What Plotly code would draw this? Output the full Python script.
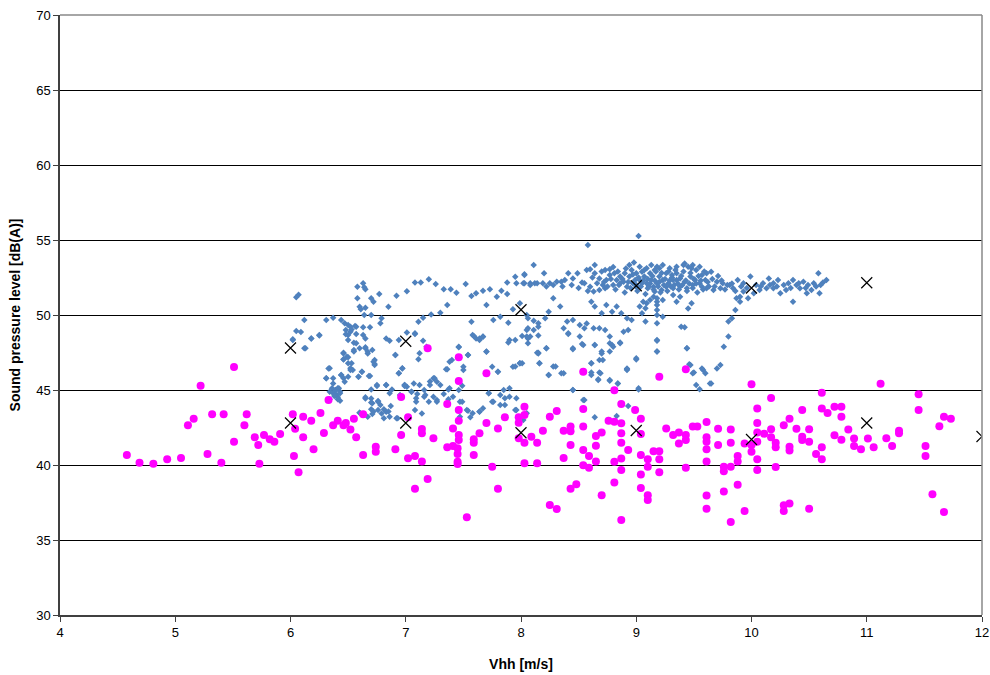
import plotly.graph_objects as go

# wind speed Vhh [m/s] vs sound pressure level [dB(A)]
# blue diamonds: total level measurements
blue_pts = [
    (6.05, 51.18), (6.07, 51.35), (6.12, 49.67), (6.05, 48.93), (6.09, 48.87), (6.02, 48.33), (6.12, 47.78),
    (6.18, 48.44), (6.25, 48.64), (6.31, 49.67), (6.37, 49.82), (6.44, 49.67), (6.47, 49.45), (6.50, 49.33),
    (6.52, 49.22), (6.56, 49.27), (6.58, 51.89), (6.63, 52.11), (6.64, 51.85), (6.65, 51.71), (6.58, 51.11),
    (6.60, 50.55), (6.61, 50.38), (6.65, 50.49), (6.70, 51.11), (6.72, 50.89), (6.77, 51.40), (6.64, 50.00),
    (6.70, 50.00), (6.48, 49.00), (6.52, 48.89), (6.50, 48.67), (6.53, 49.04), (6.57, 49.22), (6.63, 49.18),
    (6.69, 49.18), (6.48, 48.71), (6.57, 48.73), (6.50, 48.33), (6.55, 48.15), (6.63, 48.67), (6.65, 48.44),
    (6.46, 47.49), (6.50, 47.18), (6.46, 47.05), (6.53, 46.78), (6.52, 46.45), (6.54, 46.33), (6.55, 47.67),
    (6.60, 47.78), (6.65, 47.85), (6.67, 47.55), (6.71, 47.67), (6.73, 47.00), (6.73, 46.73), (6.69, 45.93),
    (6.62, 46.22), (6.34, 46.45), (6.31, 45.78), (6.37, 45.78), (6.44, 46.00), (6.46, 45.78), (6.47, 45.55),
    (6.50, 45.89), (6.59, 45.89), (6.36, 45.11), (6.39, 45.00), (6.41, 45.11), (6.43, 44.89), (6.40, 44.67),
    (6.37, 44.78), (6.41, 44.51), (6.43, 44.29), (6.34, 44.38), (6.38, 44.60), (6.65, 44.51), (6.70, 44.44),
    (6.71, 44.11), (6.76, 44.27), (6.78, 44.00), (6.76, 43.67), (6.70, 43.71), (6.71, 43.40), (6.81, 43.71),
    (6.83, 43.55), (6.86, 43.22), (6.92, 43.11), (6.60, 43.49), (6.67, 43.22), (6.75, 45.33), (6.83, 45.33),
    (6.88, 45.04), (6.95, 44.67), (6.99, 45.33), (6.83, 48.44), (6.86, 48.29), (6.94, 48.33), (7.01, 48.84),
    (7.08, 48.73), (6.91, 47.33), (6.97, 46.45), (6.94, 46.11), (6.78, 49.45), (6.79, 49.78), (6.85, 50.55),
    (6.92, 51.29), (7.01, 51.58), (7.08, 52.16), (7.13, 52.16), (7.20, 52.38), (7.26, 52.07), (7.33, 51.71),
    (7.39, 51.71), (7.44, 51.49), (7.52, 52.07), (7.36, 50.67), (7.30, 50.15), (7.22, 50.04), (7.15, 49.82),
    (7.11, 49.55), (7.08, 48.78), (7.15, 48.29), (7.18, 47.89), (7.12, 47.45), (7.11, 47.05), (7.01, 45.22),
    (7.07, 45.44), (7.12, 45.33), (7.16, 45.00), (7.10, 44.73), (7.05, 44.89), (7.09, 44.45), (7.16, 44.55),
    (7.20, 44.22), (7.24, 44.55), (7.27, 44.22), (7.33, 44.73), (7.37, 45.04), (7.41, 44.55), (7.46, 45.00),
    (7.49, 44.22), (7.53, 43.67), (7.58, 43.45), (7.64, 43.55), (7.67, 43.78), (7.72, 44.78), (7.76, 44.22),
    (7.82, 44.67), (7.82, 44.00), (7.86, 44.45), (7.90, 44.55), (7.95, 43.67), (7.96, 44.45), (7.24, 45.78),
    (7.27, 45.55), (7.21, 45.33), (7.36, 46.38), (7.40, 47.00), (7.46, 47.85), (7.50, 46.55), (7.54, 47.33),
    (7.57, 49.55), (7.58, 48.67), (7.61, 48.44), (7.64, 48.33), (7.67, 48.55), (7.70, 47.55), (7.75, 46.55),
    (7.80, 46.22), (7.90, 48.33), (7.95, 48.33), (8.01, 48.60), (8.06, 48.44), (8.06, 49.11), (8.11, 49.62),
    (7.93, 46.55), (7.99, 46.78), (7.57, 51.27), (7.61, 51.45), (7.67, 51.62), (7.73, 51.71), (7.79, 51.22),
    (7.83, 51.62), (7.88, 51.40), (7.88, 52.16), (7.95, 52.55), (7.96, 52.11), (8.03, 52.67), (8.03, 52.11),
    (8.08, 52.11), (8.12, 52.11), (8.15, 49.45), (8.15, 47.49), (8.15, 48.64), (7.70, 50.67), (7.76, 49.67),
    (7.82, 49.89), (7.89, 49.49), (7.93, 50.38), (7.99, 50.78), (8.05, 50.00), (8.05, 43.45), (8.02, 43.00),
    (9.02, 55.27), (8.58, 54.67), (8.11, 53.33), (8.03, 52.71), (8.20, 52.78), (8.02, 52.11), (8.08, 52.00),
    (8.14, 52.11), (8.19, 52.11), (8.25, 52.11), (8.31, 52.22), (8.35, 52.22), (8.38, 52.33), (8.41, 52.78),
    (8.45, 52.44), (8.49, 52.78), (8.53, 52.16), (8.57, 53.00), (8.60, 53.05), (8.64, 53.33), (8.64, 52.78),
    (8.68, 52.44), (8.73, 53.00), (8.77, 53.05), (8.77, 52.67), (8.81, 52.78), (8.86, 52.56), (8.90, 52.78),
    (8.94, 53.33), (8.96, 53.00), (8.99, 52.33), (9.03, 53.22), (9.07, 52.56), (9.12, 52.78), (9.16, 53.00),
    (9.20, 53.11), (9.26, 52.78), (9.31, 52.67), (9.35, 52.33), (9.41, 53.33), (9.45, 53.22), (9.49, 53.33),
    (9.52, 53.00), (9.57, 52.67), (9.61, 52.78), (9.65, 52.89), (9.70, 52.22), (9.75, 52.11), (9.81, 52.00),
    (9.88, 52.33), (9.93, 52.11), (9.99, 52.56), (10.04, 52.00), (10.10, 52.11), (10.15, 52.44), (10.19, 52.11),
    (10.23, 52.33), (10.28, 52.00), (10.32, 52.11), (10.36, 52.33), (10.41, 52.11), (10.45, 52.22), (10.49, 52.00),
    (10.54, 52.11), (10.58, 52.78), (10.62, 52.16), (10.65, 52.33), (9.67, 51.67), (9.73, 51.78), (9.84, 51.78),
    (9.90, 51.22), (9.93, 51.56), (9.97, 51.11), (10.02, 51.45), (10.07, 51.67), (10.13, 51.78), (10.19, 51.78),
    (10.25, 51.45), (10.30, 51.67), (10.36, 50.89), (10.42, 51.78), (10.48, 51.45), (10.52, 51.67), (10.59, 51.45),
    (9.03, 52.33), (9.09, 52.11), (9.13, 52.33), (9.15, 51.89), (9.18, 52.11), (9.20, 52.56), (9.23, 52.33),
    (9.28, 52.11), (9.32, 52.33), (9.35, 52.78), (9.38, 52.44), (9.42, 52.22), (9.47, 52.56), (9.51, 52.33),
    (9.55, 52.11), (9.60, 52.33), (9.10, 51.78), (9.16, 51.56), (9.22, 51.67), (9.26, 51.89), (9.32, 51.78),
    (9.38, 51.89), (9.44, 51.78), (9.49, 52.00), (9.57, 51.89), (9.61, 51.78), (8.89, 52.22), (8.92, 51.89),
    (8.86, 52.11), (8.83, 52.33), (8.80, 52.00), (8.74, 52.33), (8.71, 52.00), (8.66, 52.11), (8.60, 51.89),
    (8.55, 52.11), (8.63, 51.56), (8.68, 51.67), (8.73, 51.78), (9.00, 52.78), (9.05, 52.89), (9.09, 53.11),
    (9.13, 53.33), (9.18, 53.22), (9.23, 53.33), (9.29, 53.11), (9.35, 53.22), (9.42, 53.44), (9.48, 53.11),
    (9.55, 53.22), (8.94, 52.56), (8.97, 52.11), (9.00, 51.89), (9.05, 52.11), (9.18, 51.11), (9.18, 50.89),
    (9.18, 50.67), (9.18, 50.33), (9.18, 50.00), (9.18, 49.45), (9.18, 48.33), (9.18, 47.56), (9.15, 51.22),
    (9.12, 51.00), (9.09, 50.78), (9.08, 50.45), (9.06, 50.89), (9.05, 50.11), (9.03, 50.56), (9.23, 51.00),
    (9.23, 49.89), (9.08, 49.56), (9.00, 47.11), (8.92, 46.44), (9.87, 51.11), (9.90, 50.89), (9.86, 50.33),
    (9.83, 49.78), (9.80, 49.56), (9.80, 48.56), (9.76, 47.89), (9.73, 46.67), (9.70, 46.44), (9.65, 45.44),
    (9.64, 45.44), (9.58, 46.33), (9.60, 46.11), (9.57, 46.44), (9.52, 45.33), (9.55, 45.05), (9.49, 46.11),
    (9.46, 46.71), (9.44, 47.78), (9.39, 49.22), (9.42, 49.18), (9.45, 50.44), (9.48, 50.78), (9.38, 51.22),
    (9.35, 50.89), (9.32, 51.33), (8.06, 49.78), (8.05, 49.00), (8.11, 49.00), (8.15, 49.22), (8.21, 49.78),
    (8.24, 50.22), (8.28, 51.11), (8.34, 50.56), (8.40, 49.56), (8.45, 49.67), (8.51, 49.33), (8.57, 49.44),
    (8.61, 50.89), (8.64, 50.56), (8.70, 50.11), (8.74, 50.67), (8.79, 50.22), (8.83, 50.56), (8.87, 50.11),
    (8.92, 49.78), (8.96, 49.67), (8.37, 49.11), (8.41, 48.78), (8.51, 48.56), (8.55, 49.11), (8.63, 49.11),
    (8.68, 49.11), (8.73, 49.00), (8.77, 48.56), (8.79, 48.00), (8.86, 48.11), (8.89, 48.89), (8.93, 49.00),
    (8.45, 47.78), (8.54, 48.00), (8.64, 48.00), (8.70, 47.56), (8.77, 47.56), (8.61, 46.78), (8.68, 47.00),
    (8.61, 46.00), (8.67, 45.67), (8.68, 46.16), (8.28, 46.56), (8.24, 46.00), (8.35, 46.11), (8.16, 46.78),
    (8.15, 47.44), (8.22, 47.78), (8.01, 46.78), (8.08, 48.56), (8.45, 45.00), (8.54, 44.33), (8.77, 45.67),
    (8.84, 45.44), (8.92, 46.33), (9.02, 45.11), (7.59, 48.60), (7.64, 48.44), (7.67, 48.56), (7.46, 47.89),
    (7.54, 47.33), (7.35, 46.38), (7.38, 46.89), (7.50, 46.33), (7.70, 47.56), (7.80, 46.22), (7.89, 48.16),
    (7.95, 46.56), (7.99, 46.78), (8.05, 48.56), (8.06, 48.11), (8.14, 47.49), (8.16, 46.78), (8.22, 47.78),
    (8.24, 46.00), (8.30, 46.56), (8.37, 46.11), (8.41, 48.73), (8.45, 47.71), (8.53, 48.07), (8.61, 46.78),
    (8.64, 48.00), (8.70, 47.44), (8.71, 47.00), (8.77, 48.11), (8.80, 47.89), (8.86, 48.16), (8.92, 46.38),
    (9.00, 47.04), (9.18, 48.29), (9.18, 47.56), (9.44, 47.78), (9.47, 46.67), (9.50, 46.16), (8.61, 46.16),
    (8.67, 45.71), (8.69, 46.11), (8.77, 45.62), (8.84, 45.44), (9.02, 45.04), (8.45, 45.00), (8.55, 44.33),
    (8.64, 43.18), (8.76, 43.00), (8.83, 43.27), (8.93, 43.93), (7.21, 45.56), (7.25, 45.78), (7.30, 45.33),
    (7.38, 45.11), (7.49, 45.29), (6.99, 45.33), (7.05, 44.89), (7.09, 44.22), (7.17, 44.67), (7.27, 44.33),
    (7.37, 44.38), (7.47, 44.22), (7.54, 43.62), (7.64, 43.56), (7.72, 44.78), (7.75, 44.22), (7.85, 45.00),
    (7.90, 45.11), (7.86, 44.00), (7.96, 43.67), (7.47, 43.22), (7.56, 43.18), (7.08, 43.67), (7.14, 43.44),
    (6.02, 48.38), (6.13, 47.78), (6.18, 48.44), (6.25, 48.67), (6.33, 46.44), (6.31, 45.78), (6.37, 45.44),
    (6.34, 44.89), (6.39, 45.00), (6.42, 45.11), (6.43, 44.78), (6.41, 44.38), (6.44, 46.00), (6.46, 47.04),
    (6.49, 47.22), (6.46, 47.44), (6.50, 46.78), (6.52, 46.33), (6.55, 47.56), (6.57, 48.11), (6.59, 45.89),
    (6.62, 46.22), (6.65, 47.78), (6.67, 47.44), (6.68, 45.93), (6.72, 46.89), (6.73, 46.67), (6.75, 45.27),
    (6.70, 45.04), (6.65, 44.44), (6.70, 44.16), (6.76, 44.22), (6.79, 43.44), (6.81, 43.11), (6.83, 45.33),
    (6.86, 44.78), (6.87, 43.93), (6.85, 43.56), (6.91, 47.33), (6.94, 46.11), (6.97, 46.44), (6.99, 45.27),
    (6.93, 43.11), (6.60, 43.49), (6.72, 43.56),
    # dense core of the high-wind cluster
    (8.70, 52.9), (8.72, 52.2), (8.75, 51.9), (8.78, 52.4), (8.80, 53.2), (8.82, 51.7), (8.84, 52.9),
    (8.85, 52.0), (8.88, 52.4), (8.90, 51.5), (8.91, 53.1), (8.93, 52.2), (8.95, 51.8), (8.97, 52.7),
    (8.98, 53.5), (9.00, 52.0), (9.01, 51.6), (9.02, 52.5), (9.04, 51.9), (9.06, 52.3), (9.07, 53.0),
    (9.08, 51.4), (9.10, 52.4), (9.11, 51.9), (9.12, 52.1), (9.14, 52.6), (9.15, 51.7), (9.16, 52.3),
    (9.17, 52.9), (9.19, 51.9), (9.20, 52.2), (9.21, 51.5), (9.22, 52.8), (9.24, 52.0), (9.25, 52.4),
    (9.27, 51.6), (9.28, 52.9), (9.29, 52.3), (9.30, 51.9), (9.31, 52.5), (9.33, 52.0), (9.34, 53.0),
    (9.36, 52.1), (9.37, 51.7), (9.39, 52.6), (9.40, 52.0), (9.41, 52.9), (9.43, 52.3), (9.44, 51.6),
    (9.46, 52.1), (9.47, 52.8), (9.49, 51.8), (9.50, 52.4), (9.52, 52.1), (9.53, 51.5), (9.54, 52.6),
    (9.56, 52.3), (9.58, 51.7), (9.59, 52.9), (9.62, 52.2), (9.63, 51.9), (9.66, 52.4), (9.68, 51.9),
    (9.71, 52.6), (9.74, 52.3), (9.77, 51.7), (9.79, 52.0), (9.83, 52.1), (9.86, 51.6), (9.91, 51.9),
    (9.96, 51.8), (10.08, 51.9), (10.16, 52.0), (10.22, 51.9), (10.34, 51.8), (10.39, 52.0), (10.47, 51.8),
    (10.56, 51.9), (10.60, 52.0), (8.62, 52.5), (8.58, 51.6), (8.50, 51.8), (8.44, 52.0), (8.36, 51.9),
    (8.28, 52.0), (8.22, 51.9),
]

# magenta circles: background level measurements
pink_pts = [
    (4.58, 40.67), (4.69, 40.15), (4.81, 40.09), (4.93, 40.38), (5.05, 40.47), (5.11, 42.65), (5.16, 43.09),
    (5.22, 45.29), (5.28, 40.73), (5.32, 43.38), (5.40, 40.15), (5.42, 43.38), (5.51, 46.53), (5.51, 41.55),
    (5.60, 42.65), (5.62, 43.38), (5.69, 41.85), (5.72, 41.33), (5.73, 40.09), (5.77, 42.00), (5.82, 41.71),
    (5.86, 41.55), (5.91, 42.07), (6.02, 43.38), (6.04, 42.42), (6.03, 40.60), (6.07, 39.51), (6.11, 43.22),
    (6.11, 41.85), (6.18, 42.95), (6.20, 41.05), (6.26, 43.47), (6.29, 42.13), (6.33, 44.33), (6.37, 42.65),
    (6.41, 42.95), (6.46, 42.65), (6.48, 42.80), (6.52, 42.36), (6.55, 43.09), (6.57, 41.85), (6.63, 43.38),
    (6.63, 40.67), (6.74, 41.22), (6.74, 40.89), (6.91, 41.05), (6.96, 44.53), (6.96, 42.00), (7.02, 40.45),
    (7.02, 43.18), (7.19, 47.78), (7.46, 47.18), (7.70, 46.11), (7.46, 45.60), (7.36, 44.07), (7.14, 42.40),
    (7.14, 42.11), (7.24, 41.78), (7.08, 40.60), (7.14, 40.24), (7.19, 39.07), (7.08, 38.42), (7.46, 43.67),
    (7.46, 42.95), (7.41, 42.44), (7.46, 42.00), (7.46, 41.67), (7.41, 41.27), (7.36, 41.18), (7.45, 41.11),
    (7.45, 40.73), (7.45, 40.22), (7.45, 40.07), (7.59, 41.71), (7.59, 41.49), (7.64, 42.11), (7.70, 42.80),
    (7.59, 40.67), (7.75, 39.89), (7.80, 38.42), (7.53, 36.51), (7.80, 42.44), (7.86, 43.18), (7.98, 43.18),
    (7.98, 42.82), (8.03, 43.89), (8.03, 43.33), (7.98, 41.78), (8.03, 41.49), (8.09, 41.89), (8.14, 41.49),
    (8.19, 42.29), (8.03, 40.11), (8.14, 40.11), (8.25, 43.22), (8.31, 43.60), (8.25, 37.33), (8.31, 37.07),
    (8.37, 42.29), (8.43, 42.56), (8.43, 42.25), (8.43, 41.33), (8.37, 40.47), (8.43, 38.42), (8.48, 38.71),
    (8.54, 46.22), (8.54, 43.73), (8.54, 42.56), (8.54, 41.00), (8.59, 40.60), (8.54, 39.98), (8.59, 39.82),
    (8.65, 41.93), (8.65, 41.29), (8.70, 42.16), (8.65, 40.24), (8.70, 37.98), (8.76, 42.95), (8.81, 44.98),
    (8.81, 42.89), (8.87, 44.07), (8.87, 42.78), (8.87, 42.11), (8.87, 41.49), (8.87, 40.44), (8.81, 40.22),
    (8.87, 39.67), (8.81, 38.84), (8.87, 36.33), (8.93, 41.00), (8.99, 43.67), (9.04, 43.09), (9.04, 42.07),
    (9.04, 40.67), (9.10, 40.38), (9.10, 39.89), (9.04, 39.36), (9.04, 38.47), (9.10, 37.98), (9.10, 37.67),
    (9.15, 40.91), (9.20, 40.91), (9.20, 40.38), (9.20, 39.51), (9.20, 45.89), (9.26, 42.44), (9.32, 42.00),
    (9.37, 42.16), (9.37, 41.44), (9.43, 42.00), (9.43, 41.67), (9.43, 46.38), (9.43, 39.82), (9.49, 42.56),
    (9.53, 42.56), (10.00, 45.38), (10.17, 44.47), (10.05, 43.76), (10.05, 42.80), (10.05, 42.16), (10.11, 42.09),
    (10.17, 42.38), (10.17, 41.85), (10.05, 41.55), (10.00, 41.33), (10.00, 40.89), (9.94, 41.44), (10.05, 40.38),
    (10.05, 39.67), (10.21, 41.49), (10.21, 41.18), (10.21, 39.87), (10.28, 42.65), (10.33, 43.09), (10.33, 41.22),
    (10.33, 40.96), (10.39, 42.42), (10.44, 43.67), (10.44, 41.89), (10.44, 41.67), (10.50, 42.38), (10.50, 41.55),
    (10.56, 40.73), (10.61, 44.82), (10.61, 43.76), (10.66, 43.47), (10.61, 41.18), (10.61, 40.38), (10.72, 43.89),
    (10.78, 43.89), (10.78, 43.22), (10.72, 41.98), (10.78, 41.69), (10.84, 42.36), (10.89, 41.76), (10.89, 41.27),
    (10.95, 41.05), (11.01, 41.76), (11.06, 41.18), (11.12, 45.42), (11.17, 41.78), (11.22, 41.27), (11.28, 42.29),
    (11.28, 42.11), (11.45, 44.71), (11.45, 43.67), (11.51, 41.27), (11.51, 40.60), (11.57, 38.05), (11.63, 42.58),
    (11.67, 43.22), (11.73, 43.09), (11.67, 36.87), (9.61, 42.87), (9.61, 41.85), (9.61, 41.55), (9.61, 41.05),
    (9.61, 40.24), (9.61, 37.96), (9.61, 37.09), (9.71, 42.42), (9.71, 41.33), (9.76, 39.89), (9.76, 39.58),
    (9.82, 42.36), (9.82, 41.49), (9.82, 39.89), (9.88, 40.60), (9.88, 40.24), (9.88, 38.69), (9.76, 38.24),
    (9.82, 36.20), (9.94, 36.93), (10.28, 37.31), (10.28, 36.93), (10.33, 37.44), (10.50, 37.09),
]

# bin averages (black crosses)
bin_x = [6, 7, 8, 9, 10, 11, 6, 7, 8, 9, 10, 11, 12]
bin_y = [47.8, 48.25, 50.35, 51.95, 51.8, 52.15, 42.8, 42.8, 42.15, 42.3, 41.7, 42.8, 41.9]

fig = go.Figure()
fig.add_trace(go.Scatter(
    x=[p[0] for p in blue_pts], y=[p[1] for p in blue_pts], mode='markers',
    marker=dict(symbol='diamond', size=5, color='#4F81BD'), name='Total',
))
fig.add_trace(go.Scatter(
    x=[p[0] for p in pink_pts], y=[p[1] for p in pink_pts], mode='markers',
    marker=dict(symbol='circle', size=8, color='#FF00FF'), name='Background',
))
fig.add_trace(go.Scatter(
    x=bin_x, y=bin_y, mode='markers',
    marker=dict(symbol='x-thin', size=11, line=dict(color='black', width=1.2)), name='Bin average',
))

fig.update_layout(
    width=990, height=675,
    margin=dict(l=60, r=8, t=15, b=60),
    paper_bgcolor='white', plot_bgcolor='white',
    showlegend=False,
    font=dict(family='Liberation Sans, Arial, sans-serif', size=13, color='black'),
    xaxis=dict(
        range=[4, 12], dtick=1, showgrid=False, zeroline=False, automargin=False,
        showline=True, linecolor='#404040', linewidth=1.5,
        ticks='outside', ticklen=5, tickcolor='#404040',
        title=dict(text='<b>Vhh [m/s]</b>', font=dict(size=14), standoff=20),
    ),
    yaxis=dict(
        range=[30, 70], dtick=5, showgrid=True, gridcolor='black', gridwidth=1, zeroline=False,
        automargin=False,
        showline=True, linecolor='#404040', linewidth=1.5,
        ticks='outside', ticklen=5, tickcolor='#404040',
        title=dict(text='<b>Sound pressure level [dB(A)]</b>', font=dict(size=14), standoff=12),
    ),
    shapes=[
        dict(type='line', xref='paper', yref='paper', x0=0, x1=1, y0=1, y1=1,
             line=dict(color='#888888', width=1.5)),
        dict(type='line', xref='paper', yref='paper', x0=1, x1=1, y0=0, y1=1,
             line=dict(color='#888888', width=1.5)),
    ],
)

# drop the default page margin so the figure sits at the window corner
fig.write_html("out.html", config={'displayModeBar': False},
               post_script="document.body.style.margin='0px';")
